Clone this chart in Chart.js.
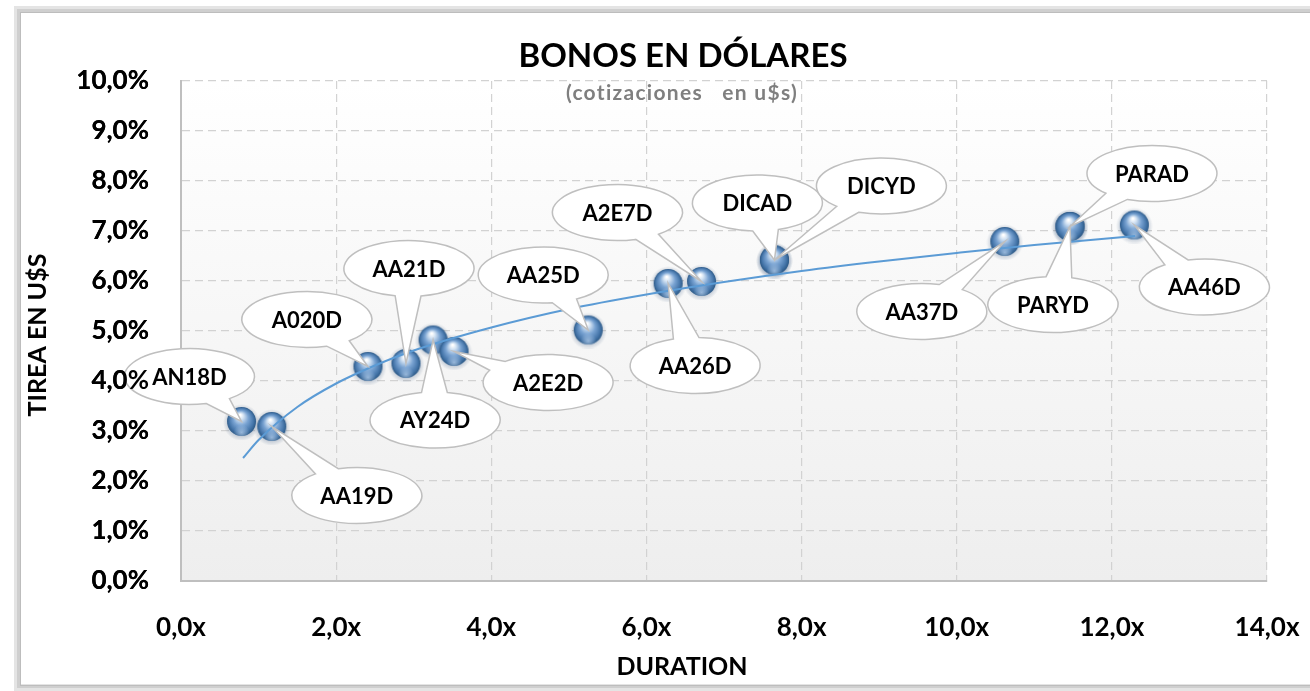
<!DOCTYPE html>
<html><head><meta charset="utf-8">
<script src="https://cdn.jsdelivr.net/npm/chart.js@4/dist/chart.umd.min.js"></script>
<style>html,body{margin:0;padding:0;background:#fff;overflow:hidden}#wrap{position:relative;width:1310px;height:691px}</style>
</head><body><div id="wrap"><canvas id="c" width="1310" height="691"></canvas></div>
<script>
// ---- data ----
const bonds    = ['AN18D','AA19D','A020D','AA21D','AY24D','A2E2D','AA25D','AA26D','A2E7D','DICAD','DICYD','AA37D','PARAD','PARYD','AA46D'];
const duration = [0.78, 1.17, 2.41, 2.90, 3.25, 3.52, 5.25, 6.28, 6.71, 7.65, 7.65, 10.62, 11.46, 11.46, 12.29];
const tirea    = [3.19, 3.09, 4.29, 4.35, 4.82, 4.59, 5.02, 5.95, 5.99, 6.42, 6.42, 6.79, 7.09, 7.09, 7.12];
// logarithmic trend line
const trendDuration = [0.8, 1.0, 1.5, 2.0, 2.5, 3.0, 4.0, 5.0, 6.0, 7.0, 8.0, 9.0, 10.0, 11.0, 12.3];
const trendTirea    = [2.46, 2.82, 3.48, 3.95, 4.31, 4.61, 5.07, 5.44, 5.73, 5.98, 6.20, 6.39, 6.56, 6.72, 6.90];
const xTickValues = [0, 2, 4, 6, 8, 10, 12, 14];
const yTickValues = [0, 1, 2, 3, 4, 5, 6, 7, 8, 9, 10];
const chartTitle = 'BONOS EN DÓLARES';
const chartSubtitle = '(cotizaciones   en u$s)';
const xTitle = 'DURATION';
const yTitle = 'TIREA EN U$S';

// ---- layout of callouts (pixel offsets of the bubble centre from its point) ----
const calloutOffset = {
  AN18D:[-52,-45], AA19D:[85,69], A020D:[-61,-47], AA21D:[3,-95], AY24D:[2,80], A2E2D:[94,31],
  AA25D:[-45,-55], AA26D:[27,82], A2E7D:[-84,-69], DICAD:[-17,-57], DICYD:[107,-74],
  AA37D:[-83,70], PARAD:[82,-53], PARYD:[-17,78], AA46D:[70,62]
};
const FONT = 'Lato, "Open Sans", "DejaVu Sans", sans-serif';

function makeBall(r){
  const s = 2*r + 8, c = document.createElement('canvas');
  c.width = c.height = s;
  const g = c.getContext('2d'), cx = s/2, cy = s/2;
  const glow = g.createRadialGradient(cx, cy+1, r*0.8, cx, cy+1, r+4);
  glow.addColorStop(0,'rgba(60,90,130,0.35)'); glow.addColorStop(1,'rgba(60,90,130,0)');
  g.fillStyle = glow; g.beginPath(); g.arc(cx, cy+1, r+4, 0, Math.PI*2); g.fill();
  const grad = g.createRadialGradient(cx - r*0.1, cy - r*0.45, r*0.05, cx, cy, r);
  grad.addColorStop(0,'#ffffff'); grad.addColorStop(0.18,'#d4e3f3');
  grad.addColorStop(0.5,'#79a3d2'); grad.addColorStop(0.82,'#4777ab'); grad.addColorStop(1,'#2d5a87');
  g.fillStyle = grad; g.beginPath(); g.arc(cx, cy, r, 0, Math.PI*2); g.fill();
  const refl = g.createRadialGradient(cx, cy + r*0.75, 0, cx, cy + r*0.75, r*0.55);
  refl.addColorStop(0,'rgba(185,210,238,0.7)'); refl.addColorStop(1,'rgba(185,210,238,0)');
  g.fillStyle = refl; g.beginPath(); g.arc(cx, cy, r, 0, Math.PI*2); g.fill();
  return c;
}
const ball = makeBall(14.5);

const fmt1 = v => v.toFixed(1).replace('.', ',');

const decor = {
  id: 'decor',
  beforeDraw(chart){
    const {ctx, chartArea:a, width:w, height:h} = chart;
    ctx.save();
    ctx.fillStyle = '#fff'; ctx.fillRect(0,0,w,h);
    ctx.strokeStyle = '#e4e4e4'; ctx.lineWidth = 7; ctx.strokeRect(17.5, 9.5, 1310, 678);
    ctx.strokeStyle = '#cfcfcf'; ctx.lineWidth = 3; ctx.strokeRect(18.5, 10.5, 1310, 676);
    ctx.strokeStyle = '#bdbdbd'; ctx.lineWidth = 1; ctx.strokeRect(20.5, 12.5, 1310, 673);
    const g = ctx.createLinearGradient(0, a.top, 0, a.bottom);
    g.addColorStop(0,'#ffffff'); g.addColorStop(1,'#eeeeee');
    ctx.fillStyle = g; ctx.fillRect(a.left, a.top, a.width, a.height);
    ctx.restore();
  },
  afterDatasetsDraw(chart){
    const {ctx} = chart, xs = chart.scales.x, ys = chart.scales.y;
    ctx.save();
    const rx = 65, ry = 28;
    bonds.forEach((name, i) => {
      const px = xs.getPixelForValue(duration[i]), py = ys.getPixelForValue(tirea[i]);
      const off = calloutOffset[name];
      const cx = px + off[0], cy = py + off[1];
      const t = Math.atan2((py - cy)/ry, (px - cx)/rx), d = 0.2;
      ctx.beginPath();
      ctx.ellipse(cx, cy, rx, ry, 0, t + d, t - d + Math.PI*2, false);
      ctx.lineTo(px, py);
      ctx.closePath();
      ctx.fillStyle = '#ffffff'; ctx.fill();
      ctx.strokeStyle = '#bfbfbf'; ctx.lineWidth = 1.5; ctx.stroke();
      ctx.fillStyle = '#000'; ctx.font = 'bold 22px ' + FONT;
      ctx.textAlign = 'center'; ctx.textBaseline = 'middle';
      ctx.fillText(name, cx, cy + 1);
    });
    ctx.restore();
    try { ys.drawLabels(chart.chartArea); } catch(e) {}
  },
  afterDraw(chart){
    const {ctx} = chart;
    ctx.save();
    ctx.textAlign = 'center'; ctx.textBaseline = 'middle';
    ctx.fillStyle = '#000'; ctx.font = 'bold 33px ' + FONT;
    ctx.fillText(chartTitle, 683, 56);
    ctx.fillStyle = '#7f7f7f'; ctx.font = 'bold 21px ' + FONT;
    try { ctx.letterSpacing = '1.3px'; } catch(e) {}
    ctx.fillText(chartSubtitle, 682, 93);
    try { ctx.letterSpacing = '0px'; } catch(e) {}
    ctx.fillStyle = '#000'; ctx.font = 'bold 25px ' + FONT;
    ctx.fillText(xTitle, 682, 667);
    ctx.translate(38, 335); ctx.rotate(-Math.PI/2);
    ctx.fillText(yTitle, 0, 0);
    ctx.restore();
  }
};

new Chart(document.getElementById('c'), {
  type: 'scatter',
  data: {
    datasets: [
      { label: 'Bonos', data: duration.map((x,i) => ({x, y: tirea[i]})),
        pointStyle: ball, pointRadius: 14, pointHoverRadius: 14, order: 1 },
      { label: 'Tendencia', data: trendDuration.map((x,i) => ({x, y: trendTirea[i]})),
        showLine: true, pointRadius: 0, borderColor: '#5b9bd5', borderWidth: 2,
        cubicInterpolationMode: 'monotone', fill: false, order: 0 }
    ]
  },
  options: {
    responsive: false, animation: false, devicePixelRatio: 1,
    layout: { padding: { top: 81, right: 43, left: 0, bottom: 0 } },
    plugins: { legend: { display: false }, tooltip: { enabled: false }, title: { display: false } },
    scales: {
      x: {
        type: 'linear', min: 0, max: 14,
        afterBuildTicks: s => { s.ticks = xTickValues.map(v => ({value: v})); },
        afterFit: s => { s.height = 110; s.paddingLeft = 0; s.paddingRight = 0; },
        ticks: { callback: v => fmt1(v) + 'x', color: '#000', padding: 31, maxRotation: 0,
                 font: { family: FONT, size: 26, weight: 'bold' } },
        grid: { color: '#d2d2d2', drawTicks: false, lineWidth: 1.2 },
        border: { display: true, color: '#bfbfbf', width: 2, dash: [8,5] }
      },
      y: {
        type: 'linear', min: 0, max: 10,
        afterBuildTicks: s => { s.ticks = yTickValues.map(v => ({value: v})); },
        afterFit: s => { s.width = 181; s.paddingTop = 0; s.paddingBottom = 0; },
        ticks: { callback: v => fmt1(v) + '%', color: '#000', padding: 32,
                 font: { family: FONT, size: 26, weight: 'bold' } },
        grid: { color: '#d2d2d2', drawTicks: false, lineWidth: 1.2 },
        border: { display: true, color: '#bfbfbf', width: 2, dash: [8,5] }
      }
    }
  },
  plugins: [decor]
});
</script>
</body></html>
